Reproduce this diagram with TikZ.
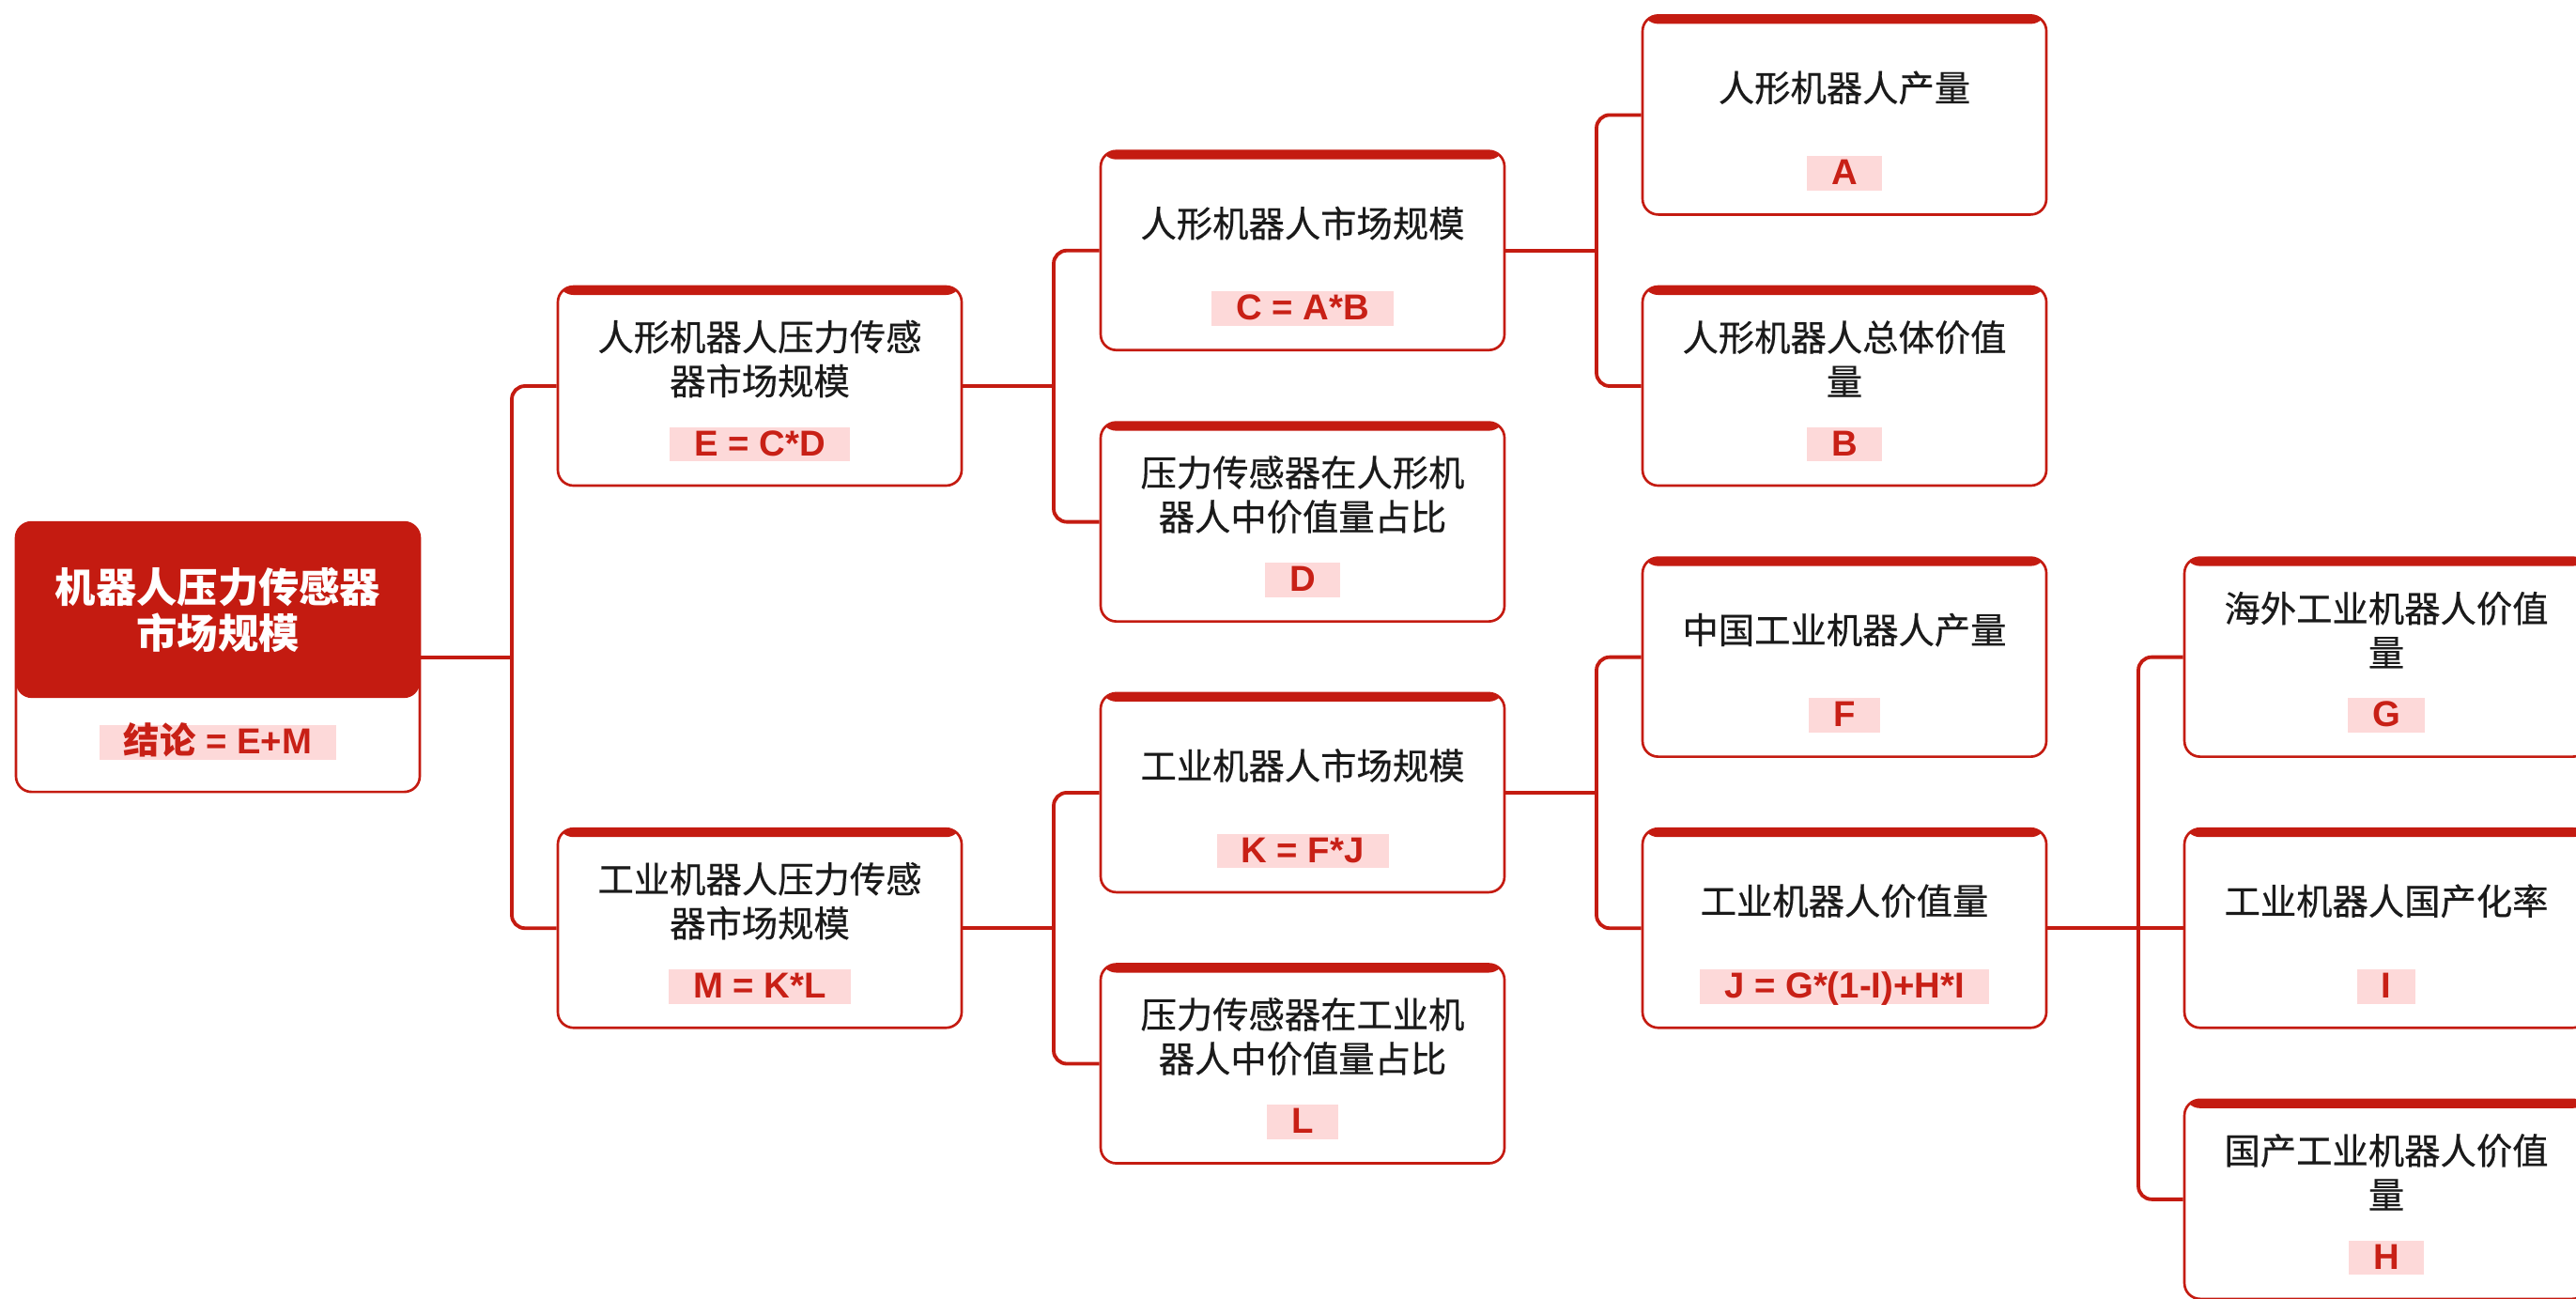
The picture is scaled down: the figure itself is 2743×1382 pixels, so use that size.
\documentclass[tikz,border=0pt]{standalone}
\usepackage{fontspec}
\setmainfont{Liberation Sans}
\newfontfamily\cjk{Noto Sans CJK SC}
\newfontfamily\cjkm[FakeBold=0.5]{Noto Sans CJK SC}
\definecolor{dred}{RGB}{196,27,17}
\definecolor{fred}{RGB}{200,32,22}
\definecolor{hpink}{RGB}{253,217,217}
\definecolor{ink}{RGB}{26,26,26}
\tikzset{
  box/.style={draw=dred, line width=0.8pt, rounded corners=5pt, fill=white,
    minimum width=129pt, minimum height=63.6pt, inner sep=0pt,
    path picture={\fill[dred] (path picture bounding box.north west) rectangle ([yshift=-2.7pt]path picture bounding box.north east);}},
  rootbox/.style={draw=dred, line width=0.8pt, rounded corners=5pt, fill=white,
    minimum width=129pt, minimum height=86.1pt, inner sep=0pt,
    path picture={\fill[dred] (path picture bounding box.north west) rectangle ([yshift=-56.1pt]path picture bounding box.north east);}},
  ttl/.style={font=\cjkm\fontsize{11.5pt}{14.1pt}\selectfont, align=center, text=ink, inner sep=0pt},
  roottl/.style={font=\cjk\bfseries\fontsize{13pt}{14.7pt}\selectfont, align=center, text=white, inner sep=0pt},
  frm/.style={fill=hpink, text=fred, font=\bfseries\fontsize{11.5pt}{13pt}\selectfont,
    inner xsep=7.8pt, inner ysep=0.85pt, text height=8.3pt, text depth=1pt},
  conn/.style={draw=dred, line width=1.15pt, rounded corners=4.2pt},
}
\newcommand\tbox[5]{%
  \node[box] (#1) at (#2,#3) {};
  \node[ttl] (#1t) at ([yshift=8.7pt]#1.center) {#4};
  \node[frm] (#1f) at ([yshift=-18.6pt]#1.center) {#5};
}
\begin{document}
\begin{tikzpicture}[x=0.3pt,y=-0.3pt]
\useasboundingbox (0,0) rectangle (2743,1382);
\clip (0,0) rectangle (2743,1382);
\coordinate (v1) at (545,0);
\coordinate (v2) at (1122,0);
\coordinate (v3) at (1700,0);
\coordinate (v4) at (2277,0);
\node[rootbox] (root) at (232,699.6) {};
\node[roottl] (roott) at ([yshift=15.2pt]root.center) {机器人压力传感器\\市场规模};
\node[frm] (rootf) at ([yshift=-27.3pt]root.center) {{\cjk\bfseries 结论} = E+M};

\tbox{E}{809}{411}{人形机器人压力传感\\器市场规模}{E = C*D}
\tbox{M}{809}{988.2}{工业机器人压力传感\\器市场规模}{M = K*L}
\tbox{C}{1387}{266.7}{人形机器人市场规模}{C = A*B}
\tbox{D}{1387}{555.6}{压力传感器在人形机\\器人中价值量占比}{D}
\tbox{K}{1387}{843.9}{工业机器人市场规模}{K = F*J}
\tbox{L}{1387}{1132.5}{压力传感器在工业机\\器人中价值量占比}{L}
\tbox{A}{1964}{122.4}{人形机器人产量}{A}
\tbox{B}{1964}{411}{人形机器人总体价值\\量}{B}
\tbox{F}{1964}{699.6}{中国工业机器人产量}{F}
\tbox{J}{1964}{988.2}{工业机器人价值量}{J = G*(1-I)+H*I}
\tbox{G}{2541}{699.6}{海外工业机器人价值\\量}{G}
\tbox{I}{2541}{988.2}{工业机器人国产化率}{I}
\tbox{H}{2541}{1276.8}{国产工业机器人价值\\量}{H}

\draw[conn] (root.east) -- (root.east -| v1);
\draw[conn] (E.west) -- (E.west -| v1) -- (M.west -| v1) -- (M.west);
\draw[conn] (E.east) -- (E.east -| v2);
\draw[conn] (C.west) -- (C.west -| v2) -- (D.west -| v2) -- (D.west);
\draw[conn] (M.east) -- (M.east -| v2);
\draw[conn] (K.west) -- (K.west -| v2) -- (L.west -| v2) -- (L.west);
\draw[conn] (C.east) -- (C.east -| v3);
\draw[conn] (A.west) -- (A.west -| v3) -- (B.west -| v3) -- (B.west);
\draw[conn] (K.east) -- (K.east -| v3);
\draw[conn] (F.west) -- (F.west -| v3) -- (J.west -| v3) -- (J.west);
\draw[conn] (G.west) -- (G.west -| v4) -- (H.west -| v4) -- (H.west);
\draw[conn] (J.east) -- (I.west);
\end{tikzpicture}
\end{document}
